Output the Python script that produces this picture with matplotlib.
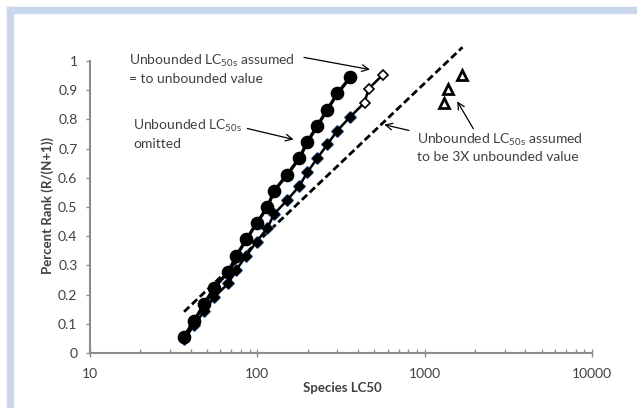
import numpy as np
import matplotlib
matplotlib.use("Agg")
import matplotlib.pyplot as plt
from matplotlib.patches import Rectangle

plt.rcParams['font.family'] = ['Lato', 'DejaVu Sans']
plt.rcParams['mathtext.default'] = 'regular'

# bounded species LC50 values (sorted)
bounded = [36.5, 42, 48, 55, 67, 75, 86, 99, 115, 126, 151, 178, 199, 228, 262, 301, 360]
# unbounded (greater-than) values
unbounded = [437, 462, 561]
unbounded_x3 = [v * 3 for v in unbounded]

n_omit = len(bounded)
rank_omit = [i / (n_omit + 1) for i in range(1, n_omit + 1)]
n_all = len(bounded) + len(unbounded)
rank_all = [i / (n_all + 1) for i in range(1, n_all + 1)]

x_eq = bounded + unbounded
x_3x = bounded + unbounded_x3

txt_col = '#404040'
ax_col = '#8c8c8c'

fig = plt.figure(figsize=(6.37, 4.08), dpi=100)
ax = fig.add_axes([90 / 637, 1 - 353 / 408, 502 / 637, 292 / 408])

# light blue frame on the left and top
fig.patches.append(Rectangle((7 / 637, 0), 6 / 637, 1 - 7 / 408,
                             transform=fig.transFigure, color='#c9d7ec', zorder=0))
fig.patches.append(Rectangle((7 / 637, 1 - 13 / 408), 1 - 7 / 637, 6 / 408,
                             transform=fig.transFigure, color='#c9d7ec', zorder=0))

# trendline (log) for the 3X series
k, b = np.polyfit(np.log10(x_3x), rank_all, 1)
xt = np.array([min(x_3x), max(x_3x)])
ax.plot(xt, k * np.log10(xt) + b, color='black', lw=2.0, ls=(0, (2.6, 1.3)),
        zorder=2, clip_on=False)

# 3X series: bounded markers (blue) + triangles
ax.plot(bounded, rank_all[:n_omit], ls='none', marker='D', ms=6.2,
        mfc='#4f81bd', mec='#4f81bd', zorder=3)
ax.plot(unbounded_x3, rank_all[n_omit:], ls='none', marker='^', ms=7,
        mfc='white', mec='black', mew=2, zorder=4)

# unbounded = unbounded value series
ax.plot(x_eq, rank_all, color='black', lw=1.8, zorder=4)
ax.plot(bounded, rank_all[:n_omit], ls='none', marker='D', ms=5.2,
        mfc='black', mec='black', zorder=5)
ax.plot(unbounded, rank_all[n_omit:], ls='none', marker='D', ms=5.5,
        mfc='white', mec='black', mew=1.2, zorder=5)

# unbounded omitted series
ax.plot(bounded, rank_omit, color='black', lw=2.4, marker='o', ms=8.8,
        mfc='black', mec='black', zorder=6)

ax.set_xscale('log')
ax.set_xlim(10, 10000)
ax.set_ylim(0, 1)
ax.set_yticks(np.arange(0, 1.01, 0.1))
ax.set_yticklabels(['0', '0.1', '0.2', '0.3', '0.4', '0.5', '0.6', '0.7', '0.8', '0.9', '1'])
ax.set_xticks([10, 100, 1000, 10000])
ax.set_xticklabels(['10', '100', '1000', '10000'])

for s in ['top', 'right']:
    ax.spines[s].set_visible(False)
for s in ['left', 'bottom']:
    ax.spines[s].set_color(ax_col)
    ax.spines[s].set_linewidth(1.5)
ax.tick_params(axis='y', which='major', direction='out', length=3, width=1,
               color=ax_col, labelcolor=txt_col, labelsize=10, pad=6)
ax.tick_params(axis='x', which='major', direction='inout', length=6, width=1,
               color=ax_col, labelcolor=txt_col, labelsize=10, pad=8)
ax.tick_params(axis='x', which='minor', direction='in', length=3, width=1,
               color=ax_col, labelbottom=False)

ax.set_xlabel('Species LC50', fontsize=9.5, fontweight='bold', color=txt_col)
ax.set_ylabel('Percent Rank (R/(N+1))', fontsize=9.5, fontweight='bold', color=txt_col)
ax.xaxis.set_label_coords((342 - 90) / 502, -(392 - 353) / 292)
ax.yaxis.set_label_coords(-(90 - 48) / 502, (353 - 205) / 292)
ax.xaxis.label.set_va('baseline')
ax.yaxis.label.set_va('center')


def ftext(px, py, s):
    fig.text(px / 637, 1 - py / 408, s, fontsize=10, color=txt_col,
             ha='left', va='baseline')


ftext(129, 65, 'Unbounded LC$_{50s}$ assumed')
ftext(129, 83, '= to unbounded value')
ftext(133, 130, 'Unbounded LC$_{50s}$')
ftext(133, 148, 'omitted')
ftext(417, 144, 'Unbounded LC$_{50s}$ assumed')
ftext(417, 161, 'to be 3X unbounded value')

arrow = dict(arrowstyle='->', color='black', lw=0.9, mutation_scale=12)
ax.annotate('', xy=(489, 0.969), xytext=(183, 1.014), arrowprops=arrow,
            annotation_clip=False)
ax.annotate('', xy=(171, 0.729), xytext=(84, 0.771), arrowprops=arrow)
ax.annotate('', xy=(553, 0.784), xytext=(836, 0.760), arrowprops=arrow)
ax.annotate('', xy=(1535, 0.87), xytext=(1991, 0.760), arrowprops=arrow)

fig.savefig('out.png', dpi=100)
